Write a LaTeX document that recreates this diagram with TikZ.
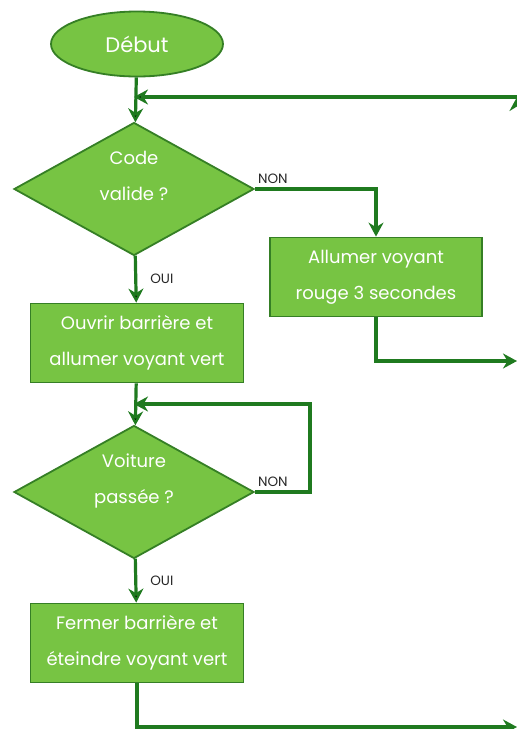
\documentclass[tikz,border=0pt]{standalone}
\usepackage{fontspec}
\setmainfont{Poppins}
\usetikzlibrary{arrows.meta,shapes.geometric}
\definecolor{leaf}{HTML}{77C443}
\definecolor{stem}{HTML}{1F7A1F}
\definecolor{rim}{HTML}{357F25}
\tikzset{>={Stealth[length=14pt,width=15pt]},
  blockstyle/.style={draw=rim,fill=leaf,line width=1.8pt,text=white,align=center,
    font=\fontsize{18}{36}\selectfont,inner sep=0pt},
  boxstyle/.style={blockstyle,rectangle,minimum width=213pt,minimum height=79pt},
  testbox/.style={blockstyle,diamond,aspect=1.8,minimum width=240pt,minimum height=133pt,text depth=26pt},
  flow/.style={draw=stem,line width=3.2pt},
  tag/.style={font=\fontsize{13.5}{14}\selectfont,text=black!85,inner sep=1pt}}

\begin{document}
\begin{tikzpicture}[x=1pt,y=-1pt]
\useasboundingbox (0,0) rectangle (517,729);
\node (start) [blockstyle,ellipse,minimum width=172pt,minimum height=65pt,font=\fontsize{21}{24}\selectfont] at (137,44) {Début};
\node (code) [testbox] at (134,189) {Code\\valide ?};
\node (red) [boxstyle,minimum width=212pt] at (376,277) {Allumer voyant\\rouge 3 secondes};
\node (open) [boxstyle] at (137,343) {Ouvrir barrière et\\allumer voyant vert};
\node (car) [testbox] at (134,492) {Voiture\\passée ?};
\node (close) [boxstyle] at (137,643) {Fermer barrière et\\éteindre voyant vert};
\coordinate (back) at (517,97);
\coordinate (wait) at (310,404);
\coordinate (out1) at (517,361);
\coordinate (out2) at (517,727);
\path[flow,->] (start) edge (code);
\path[flow,->] (back) edge (back -| code);
\path[flow,->] (code.east) -| (red.north);
\node[tag,anchor=south west] at ([xshift=2pt,yshift=4pt]code.east) {NON};
\path[flow,->] (code) edge node[tag,right,xshift=12pt] {OUI} (open);
\path[flow,->] (red.south) |- (out1);
\path[flow,->] (open) edge (car);
\path[flow,->] (car.east) -| (wait) -- (wait -| car);
\node[tag,anchor=south west] at ([xshift=2pt,yshift=4pt]car.east) {NON};
\path[flow,->] (car) edge node[tag,right,xshift=12pt] {OUI} (close);
\path[flow,->] (close.south) |- (out2);
\end{tikzpicture}
\end{document}
